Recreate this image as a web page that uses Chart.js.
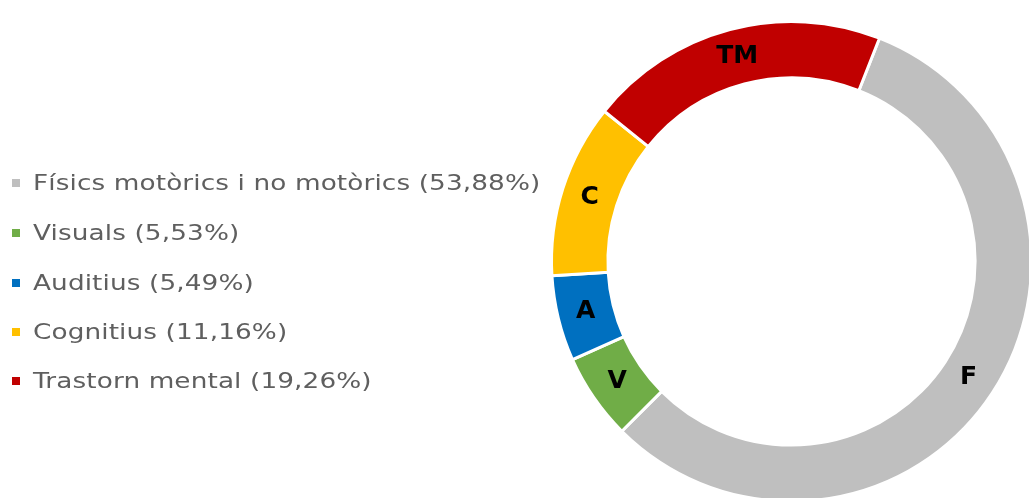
<!DOCTYPE html>
<html>
<head>
<meta charset="utf-8">
<script src="https://cdn.jsdelivr.net/npm/chart.js@4.4.0/dist/chart.umd.min.js"></script>
<style>
  html, body { margin: 0; padding: 0; background: #fff; overflow: hidden; width: 1029px; height: 498px; }
  #wrap { position: absolute; left: 0; top: 0; width: 1040px; height: 510px; }
  #legend { position: absolute; left: 0; top: 0; font-family: "DejaVu Sans", sans-serif; font-size: 22px; color: #5f5f5f; }
  .item { position: absolute; left: 12px; white-space: nowrap; height: 30px; line-height: 30px; }
  .box { position: absolute; left: 0; top: 11px; width: 8px; height: 8px; }
  .txt { position: absolute; left: 21px; top: 0; letter-spacing: 0.1px; transform: scaleX(1.195); transform-origin: 0 50%; }
</style>
</head>
<body>
<div id="wrap"><canvas id="c" width="1040" height="510"></canvas></div>
<div id="legend"></div>
<script>
const categories = ["Físics motòrics i no motòrics", "Visuals", "Auditius", "Cognitius", "Trastorn mental"];
const shortLabels = ["F", "V", "A", "C", "TM"];
const values = [53.88, 5.53, 5.49, 11.16, 19.26];
const colors = ["#BFBFBF", "#70AD47", "#0070C0", "#FFC000", "#C00000"];

// HTML legend built from the arrays
const legend = document.getElementById('legend');
const rowTops = [168, 218, 268, 317, 366];
categories.forEach((name, i) => {
  const it = document.createElement('div');
  it.className = 'item';
  it.style.top = rowTops[i] + 'px';
  const b = document.createElement('span');
  b.className = 'box';
  b.style.background = colors[i];
  const t = document.createElement('span');
  t.className = 'txt';
  t.textContent = name + ' (' + values[i].toFixed(2).replace('.', ',') + '%)';
  it.appendChild(b); it.appendChild(t);
  legend.appendChild(it);
});

const segLabels = {
  id: 'segLabels',
  afterDatasetsDraw(chart) {
    const ctx = chart.ctx;
    const meta = chart.getDatasetMeta(0);
    ctx.save();
    ctx.font = 'bold 25px "DejaVu Sans", sans-serif';
    ctx.fillStyle = '#000';
    ctx.textAlign = 'center';
    ctx.textBaseline = 'middle';
    meta.data.forEach((arc, i) => {
      const p = arc.tooltipPosition();
      ctx.fillText(shortLabels[i], p.x, p.y);
    });
    ctx.restore();
  }
};

new Chart(document.getElementById('c'), {
  type: 'doughnut',
  data: {
    labels: categories,
    datasets: [{
      data: values,
      backgroundColor: colors,
      borderColor: '#ffffff',
      borderWidth: 3
    }]
  },
  options: {
    responsive: false,
    animation: false,
    rotation: 21.5,
    cutout: '76.5%',
    layout: { padding: { left: 550, top: 20, right: 7, bottom: 7 } },
    plugins: {
      legend: { display: false },
      tooltip: { enabled: false }
    }
  },
  plugins: [segLabels]
});
</script>
</body>
</html>
